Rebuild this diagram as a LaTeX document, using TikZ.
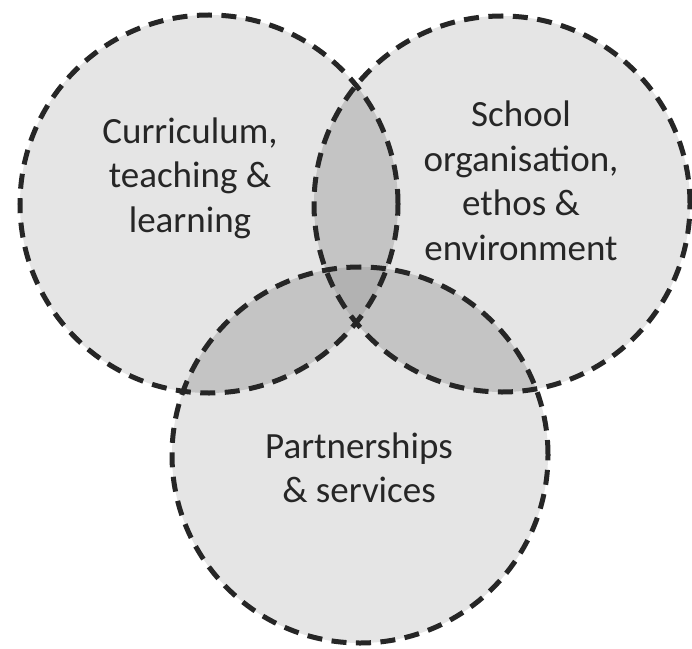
\documentclass[tikz,border=0pt]{standalone}
\usepackage{fontspec}
\setmainfont{Carlito}
\definecolor{gone}{HTML}{E5E5E5}
\definecolor{gtwo}{HTML}{C4C4C4}
\definecolor{gthree}{HTML}{B2B2B2}
\definecolor{ink}{HTML}{262626}
\begin{document}
\begin{tikzpicture}[x=1bp,y=-1bp,
  ring/.style={draw=ink, line width=5bp, dash pattern=on 15bp off 9.5bp},
  lbl/.style={font=\fontsize{37bp}{44.5bp}\selectfont, text=ink, align=center}]
\useasboundingbox (0,0) rectangle (692,649);
\fill[white] (0,0) rectangle (692,649);
\coordinate (L) at (209,204);
\coordinate (R) at (502,204);
\coordinate (B) at (360,455);
% single fills
\fill[gone] (L) circle[radius=189bp];
\fill[gone] (R) circle[radius=188bp];
\fill[gone] (B) circle[radius=188bp];
% double overlaps
\begin{scope}
  \clip (L) circle[radius=189bp];
  \fill[gtwo] (R) circle[radius=188bp];
  \fill[gtwo] (B) circle[radius=188bp];
\end{scope}
\begin{scope}
  \clip (R) circle[radius=188bp];
  \fill[gtwo] (B) circle[radius=188bp];
\end{scope}
% triple overlap
\begin{scope}
  \clip (L) circle[radius=189bp];
  \clip (R) circle[radius=188bp];
  \fill[gthree] (B) circle[radius=188bp];
\end{scope}
% outlines
\draw[ring] (L) circle[radius=189bp];
\draw[ring] (R) circle[radius=188bp];
\draw[ring] (B) circle[radius=188bp];
% labels
\node[lbl] (curr) at (190,178) {Curriculum,\\teaching \&\\learning};
\node[lbl] (school) at (521,181) {School\\organisation,\\ethos \&\\environment};
\node[lbl] (part) at (359,468) {Partnerships\\\& services};
\end{tikzpicture}
\end{document}
